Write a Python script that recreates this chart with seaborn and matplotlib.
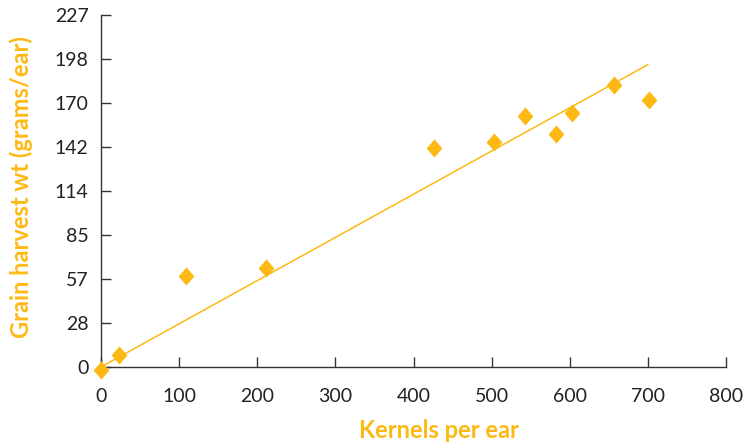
import numpy as np
import pandas as pd
import matplotlib
matplotlib.use("Agg")
import matplotlib.pyplot as plt
import seaborn as sns

# Data
kernels = [0, 23, 109, 211, 426, 503, 543, 582, 603, 656, 702]
grain_wt = [-2, 8, 59, 64, 141, 145, 162, 150, 164, 182, 172]

# straight fit line endpoints
fit_x = [0, 700]
fit_y = [0, 195]

y_ticks = np.linspace(0, 227, 9)
y_tick_labels = ['0', '28', '57', '85', '114', '142', '170', '198', '227']
x_ticks = [0, 100, 200, 300, 400, 500, 600, 700, 800]

data = pd.DataFrame({'kernels': kernels, 'grain': grain_wt})
fit = pd.DataFrame({'x': fit_x, 'y': fit_y})

gold = '#FDB913'
dark = '#222222'

sns.set_style("ticks")
plt.rcParams['font.family'] = ['Lato', 'DejaVu Sans']

fig = plt.figure(figsize=(7.51, 4.48), dpi=100)
ax = fig.add_axes([101 / 751, 81 / 448, 625 / 751, 352 / 448])

# fit line
sns.lineplot(data=fit, x='x', y='y', color=gold, linewidth=1.1, ax=ax)

# diamond markers (slightly taller than wide)
diamond = [(0, 1), (0.87, 0), (0, -1), (-0.87, 0), (0, 1)]
sns.scatterplot(data=data, x='kernels', y='grain', marker=diamond, s=170,
                color=gold, linewidth=0, clip_on=False, zorder=5, ax=ax)

ax.set_xlim(0, 800)
ax.set_ylim(0, 227)
ax.set_xticks(x_ticks)
ax.set_yticks(y_ticks)
ax.set_yticklabels(y_tick_labels)

sns.despine(ax=ax)
for side in ['left', 'bottom']:
    ax.spines[side].set_color('#333333')
    ax.spines[side].set_linewidth(1.0)

ax.tick_params(axis='x', direction='in', length=7, width=1.0, color='#333333',
               pad=15, labelsize=14, labelcolor=dark)
ax.tick_params(axis='y', direction='in', length=7, width=1.0, color='#333333',
               pad=9, labelsize=14, labelcolor=dark)

ax.set_xlabel('Kernels per ear', color=gold, fontsize=17, fontweight='bold')
ax.set_ylabel('Grain harvest wt (grams/ear)', color=gold, fontsize=17, fontweight='bold')
ax.xaxis.set_label_coords(0.54, -0.148)
ax.yaxis.set_label_coords(-0.108, 0.51)

plt.savefig("out.png", dpi=100)
